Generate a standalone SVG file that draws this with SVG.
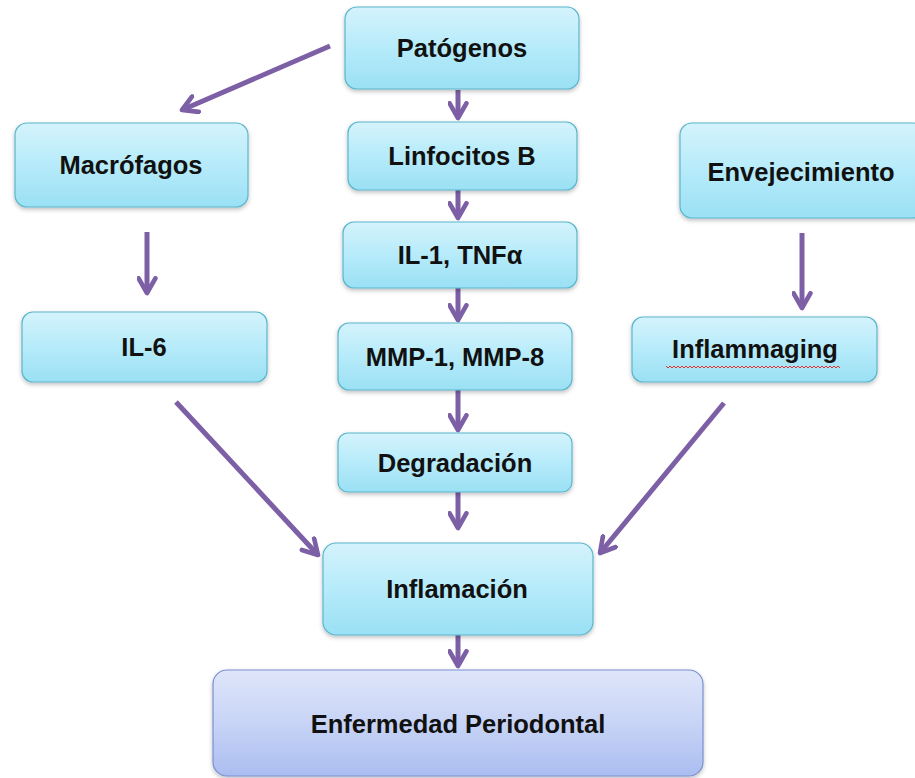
<svg xmlns="http://www.w3.org/2000/svg" width="915" height="778" viewBox="0 0 915 778">
<defs>
<linearGradient id="cyan" x1="0" y1="0" x2="0" y2="1">
<stop offset="0" stop-color="#d4f3fc"/>
<stop offset="0.5" stop-color="#b6ebfa"/>
<stop offset="1" stop-color="#9ae0f4"/>
</linearGradient>
<linearGradient id="blue" x1="0" y1="0" x2="0" y2="1">
<stop offset="0" stop-color="#dfe6fa"/>
<stop offset="0.5" stop-color="#c8d4f6"/>
<stop offset="1" stop-color="#aabdf0"/>
</linearGradient>
<filter id="sh" x="-10%" y="-10%" width="120%" height="130%">
<feDropShadow dx="0" dy="2" stdDeviation="2" flood-color="#000" flood-opacity="0.25"/>
</filter>
<marker id="ah" viewBox="0 0 10 10" refX="8" refY="5" markerWidth="4.2" markerHeight="4.2" orient="auto" markerUnits="strokeWidth">
<polyline points="1,1 8,5 1,9" fill="none" stroke="#7d5fa6" stroke-width="2.2" stroke-linecap="round" stroke-linejoin="round"/>
</marker>
</defs>
<style>
.box{fill:url(#cyan);stroke:#5ab6cc;stroke-width:1.2;filter:url(#sh)}
.box2{fill:url(#blue);stroke:#7b8fcf;stroke-width:1.2;filter:url(#sh)}
.t{font-family:"Liberation Sans",Arial,sans-serif;font-weight:bold;font-size:25.5px;fill:#111;text-anchor:middle;dominant-baseline:central}
.c{stroke:#7d5fa6;stroke-width:5;fill:none;marker-end:url(#ah)}
</style>
<rect width="915" height="778" fill="#fff"/>
<g id="connectors">
<line class="c" x1="330" y1="46" x2="182" y2="110"/>
<line class="c" x1="458" y1="90" x2="458" y2="118"/>
<line class="c" x1="458" y1="190" x2="458" y2="218"/>
<line class="c" x1="458" y1="288" x2="458" y2="320"/>
<line class="c" x1="458" y1="390" x2="458" y2="430"/>
<line class="c" x1="458" y1="492" x2="458" y2="528"/>
<line class="c" x1="458" y1="635" x2="458" y2="666"/>
<line class="c" x1="147" y1="232" x2="147" y2="293"/>
<line class="c" x1="802" y1="233" x2="802" y2="308"/>
<line class="c" x1="176" y1="402" x2="318" y2="555"/>
<line class="c" x1="724" y1="403" x2="600" y2="553"/>
</g>
<g id="patogenos"><rect class="box" x="345" y="7" width="234" height="82" rx="12"/><text class="t" x="462" y="48">Patógenos</text></g>
<g id="linfocitos"><rect class="box" x="348" y="122" width="229" height="68" rx="11"/><text class="t" x="462" y="156">Linfocitos B</text></g>
<g id="macrofagos"><rect class="box" x="15" y="123" width="233" height="84" rx="12"/><text class="t" x="131" y="165">Macrófagos</text></g>
<g id="envejecimiento"><rect class="box" x="680" y="123" width="245" height="95" rx="12"/><text class="t" x="801" y="172">Envejecimiento</text></g>
<g id="il1"><rect class="box" x="343" y="222" width="234" height="66" rx="11"/><text class="t" x="460" y="255">IL-1, TNFα</text></g>
<g id="il6"><rect class="box" x="22" y="312" width="245" height="70" rx="11"/><text class="t" x="144" y="347">IL-6</text></g>
<g id="mmp"><rect class="box" x="338" y="323" width="234" height="67" rx="11"/><text class="t" x="455" y="357">MMP-1, MMP-8</text></g>
<g id="inflammaging"><rect class="box" x="632" y="317" width="245" height="65" rx="11"/><text class="t" x="755" y="349">Inflammaging</text>
<path d="M666,366 l2,2 2,-2 2,2 2,-2 2,2 2,-2 2,2 2,-2 2,2 2,-2 2,2 2,-2 2,2 2,-2 2,2 2,-2 2,2 2,-2 2,2 2,-2 2,2 2,-2 2,2 2,-2 2,2 2,-2 2,2 2,-2 2,2 2,-2 2,2 2,-2 2,2 2,-2 2,2 2,-2 2,2 2,-2 2,2 2,-2 2,2 2,-2 2,2 2,-2 2,2 2,-2 2,2 2,-2 2,2 2,-2 2,2 2,-2 2,2 2,-2 2,2 2,-2 2,2 2,-2 2,2 2,-2 2,2 2,-2 2,2 2,-2 2,2 2,-2 2,2 2,-2 2,2 2,-2 2,2 2,-2 2,2 2,-2 2,2 2,-2 2,2 2,-2 2,2 2,-2 2,2 2,-2 2,2 2,-2 2,2 2,-2 2,2" fill="none" stroke="#e03030" stroke-width="1"/></g>
<g id="degradacion"><rect class="box" x="338" y="433" width="234" height="59" rx="10"/><text class="t" x="455" y="463">Degradación</text></g>
<g id="inflamacion"><rect class="box" x="323" y="543" width="270" height="92" rx="13"/><text class="t" x="457" y="589">Inflamación</text></g>
<g id="enfermedad"><rect class="box2" x="213" y="670" width="490" height="106" rx="14"/><text class="t" x="458" y="724">Enfermedad Periodontal</text></g>
</svg>
